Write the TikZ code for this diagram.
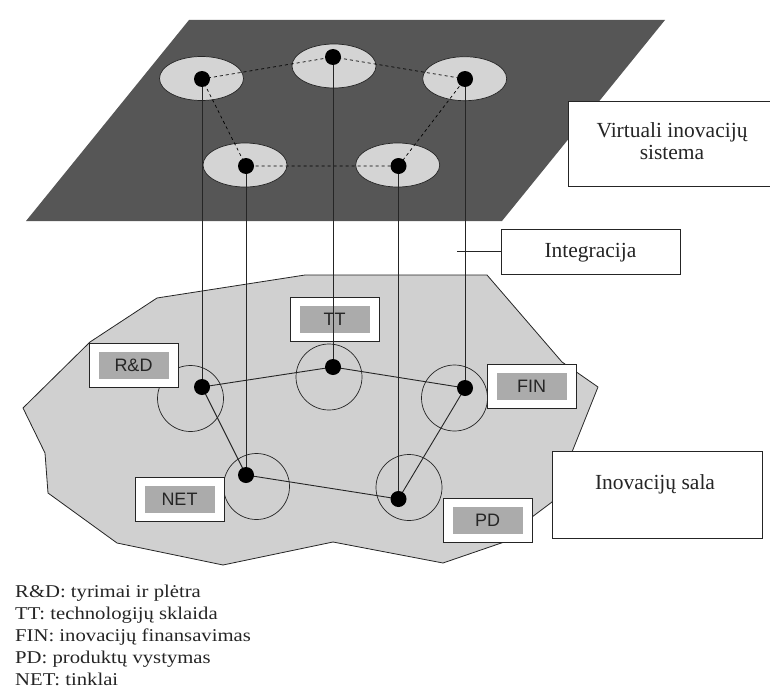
\documentclass[tikz,border=0pt]{standalone}
\usepackage{fontspec}
\setmainfont{Liberation Serif}
\newfontfamily\labfont{Liberation Sans}
\newfontfamily\legfont[FakeStretch=1.15]{Liberation Serif}
\usetikzlibrary{shapes.geometric}
\definecolor{plane}{HTML}{565656}
\definecolor{ellfill}{HTML}{D4D4D4}
\definecolor{islandfill}{HTML}{D0D0D0}
\definecolor{labgray}{HTML}{ABABAB}
\definecolor{ink}{HTML}{252525}
\tikzset{
  ellnode/.style={ellipse, draw=ink, fill=ellfill, line width=0.7pt, minimum width=84pt, minimum height=44pt, inner sep=0pt},
  dotn/.style={circle, fill=black, minimum size=16pt, inner sep=0pt},
  ring/.style={circle, draw=ink, line width=0.7pt, minimum size=66pt, inner sep=0pt},
  labout/.style={rectangle, draw=ink, fill=white, line width=0.7pt, minimum width=89pt, minimum height=44pt, inner sep=0pt},
  labin/.style={rectangle, fill=labgray, minimum width=70pt, minimum height=27pt, inner sep=0pt, text=ink, font=\labfont\fontsize{18}{18}\selectfont},
  tbox/.style={rectangle, draw=ink, fill=white, line width=0.7pt, inner sep=0pt},
  boxtext/.style={anchor=base, inner sep=0pt, text=ink, font=\fontsize{21.5}{22}\selectfont},
  legtext/.style={anchor=base west, inner sep=0pt, text=ink, font=\legfont\fontsize{18}{22}\selectfont},
  dashline/.style={draw=black, line width=0.7pt, dash pattern=on 3pt off 3pt},
  link/.style={draw=ink, line width=0.9pt}
}
\begin{document}
\begin{tikzpicture}[x=1pt,y=-1pt]
\useasboundingbox (0,0) rectangle (770,693);
% virtual plane
\fill[plane] (189,20) -- (665,20) -- (502,221) -- (26,221) -- cycle;
\node[ellnode] (e1) at (201.5,78.5) {};
\node[ellnode] (e2) at (334,66) {};
\node[ellnode] (e3) at (464.7,78.7) {};
\node[ellnode] (e4) at (245,165) {};
\node[ellnode] (e5) at (397.7,165) {};
\coordinate (t1) at (202,79);
\coordinate (t2) at (333,57);
\coordinate (t3) at (465,79);
\coordinate (t4) at (246,166);
\coordinate (t5) at (398.5,166);
\draw[dashline] (t1) -- (t2) -- (t3) -- (t5) -- (t4) -- cycle;
% island
\filldraw[fill=islandfill, draw=ink, line width=0.8pt]
  (157,298) -- (305,275) -- (487,275) -- (562,362) -- (598,387) -- (552,502)
  -- (532,517) -- (510,540) -- (443,563) -- (333,542) -- (223,565) -- (117,543)
  -- (48,493) -- (45,453) -- (23,408) -- (90,342) -- cycle;
\node[ring] (c1) at (190.5,398.5) {};
\node[ring] (c2) at (329,377) {};
\node[ring] (c3) at (454.5,398) {};
\node[ring] (c4) at (409,487.5) {};
\node[ring] (c5) at (256.5,486.5) {};
\coordinate (b1) at (202,387);
\coordinate (b2) at (333,367);
\coordinate (b3) at (465,388);
\coordinate (b4) at (398.5,499);
\coordinate (b5) at (246,475);
% label boxes
\node[labout] (rdo) at (133.5,365.5) {};
\node[labin] (rdi) at (rdo) {R\&D};
\node[labout] (tto) at (334.5,319.5) {};
\node[labin] (tti) at (tto) {TT};
\node[labout] (neto) at (179.5,499) {};
\node[labin] (neti) at (neto) {NET};
\node[labout] (fino) at (531.5,386) {};
\node[labin] (fini) at (fino) {FIN};
\node[labout] (pdo) at (487.5,520) {};
\node[labin] (pdi) at (pdo) {PD};
% island links
\draw[link] (b1) -- (b2) -- (b3) -- (b4) -- (b5) -- cycle;
% vertical integration lines
\draw[link] (t1) -- (b1);
\draw[link] (t2) -- (b2);
\draw[link] (t3) -- (b3);
\draw[link] (t4) -- (b5);
\draw[link] (t5) -- (b4);
% dots
\foreach \p in {t1,t2,t3,t4,t5,b1,b2,b3,b4,b5} \node[dotn] at (\p) {};
% text boxes
\node[tbox, minimum width=208pt, minimum height=85pt] (virt) at (672,143.5) {};
\node[boxtext] (vt1) at (672,137) {Virtuali inovacijų};
\node[boxtext] (vt2) at (672,159) {sistema};
\node[tbox, minimum width=179pt, minimum height=45pt] (integ) at (590.5,251.5) {};
\node[boxtext] (it) at (590.5,257) {Integracija};
\coordinate (ic) at (457,251.5);
\draw[link] (ic) -- (integ.west);
\node[tbox, minimum width=210pt, minimum height=87pt] (sala) at (657,494.5) {};
\node[boxtext] (st) at (655,489) {Inovacijų sala};
% legend
\node[legtext] (lg1) at (15,597) {R\&D: tyrimai ir plėtra};
\node[legtext] (lg2) at (15,619) {TT: technologijų sklaida};
\node[legtext] (lg3) at (15,641) {FIN: inovacijų finansavimas};
\node[legtext] (lg4) at (15,663) {PD: produktų vystymas};
\node[legtext] (lg5) at (15,685) {NET: tinklai};
\end{tikzpicture}
\end{document}
